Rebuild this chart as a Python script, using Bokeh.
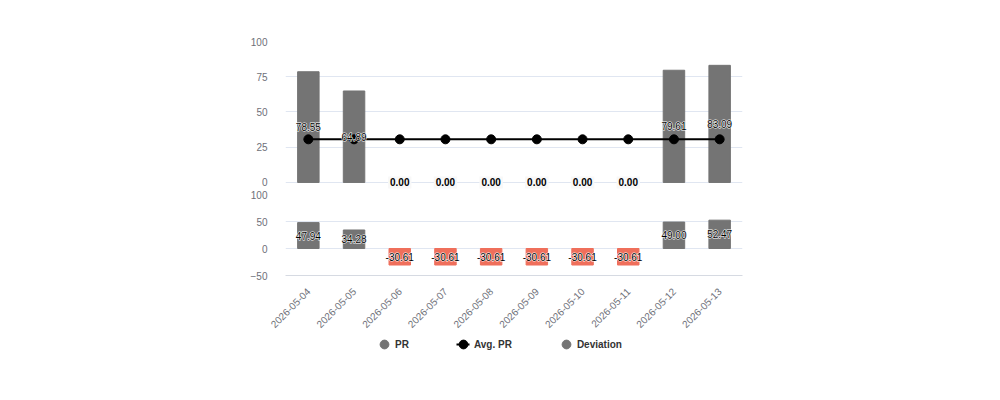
from math import pi

from bokeh.plotting import figure
from bokeh.models import (ColumnDataSource, Range1d, FixedTicker, Legend, LegendItem)
from bokeh.layouts import column
from bokeh.core.properties import value
from bokeh.embed import file_html
from bokeh.resources import INLINE

# data
dates = ['2026-05-04', '2026-05-05', '2026-05-06', '2026-05-07', '2026-05-08',
         '2026-05-09', '2026-05-10', '2026-05-11', '2026-05-12', '2026-05-13']
pr = [78.55, 64.89, 0.00, 0.00, 0.00, 0.00, 0.00, 0.00, 79.61, 83.09]
avg_pr = [30.61, 30.61, 30.61, 30.61, 30.61, 30.61, 30.61, 30.61, 30.61, 30.61]
deviation = [47.94, 34.28, -30.61, -30.61, -30.61, -30.61, -30.61, -30.61, 49.00, 52.47]

GRAY = '#747474'
SALMON = '#ef6f5b'
GRID = '#e0e6f1'
TICK = '#6e7079'
FONT = 'Liberation Sans'
W = 984

src = ColumnDataSource(dict(
    date=dates, pr=pr, avg=avg_pr, dev=deviation,
    dev_mid=[v / 2 for v in deviation],
    dev_txt=['%.2f' % v for v in deviation],
    dev_col=[GRAY if v >= 0 else SALMON for v in deviation],
))
pos = ColumnDataSource(dict(
    date=[d for d, v in zip(dates, pr) if v > 0],
    mid=[v / 2 for v in pr if v > 0],
    txt=['%.2f' % v for v in pr if v > 0],
))
zero = ColumnDataSource(dict(
    date=[d for d, v in zip(dates, pr) if v == 0],
    y=[v for v in pr if v == 0],
    txt=['%.2f' % v for v in pr if v == 0],
))


def style_y(p, ticks):
    p.yaxis.ticker = FixedTicker(ticks=ticks)
    p.yaxis.axis_line_color = None
    p.yaxis.major_tick_line_color = None
    p.yaxis.minor_tick_line_color = None
    p.yaxis.major_label_standoff = 12
    p.yaxis.major_label_text_color = TICK
    p.yaxis.major_label_text_font = FONT
    p.yaxis.major_label_text_font_size = '10px'
    p.ygrid.grid_line_color = GRID
    p.xgrid.grid_line_color = None
    p.outline_line_color = None


def halo_text(p, y, text, source):
    # white outlined copy underneath, black text on top
    kw = dict(x='date', y=y, text=text, source=source, text_align='center',
              text_baseline='middle', text_font=value(FONT), text_font_size='10px')
    p.text(text_color='white', text_outline_color='white', **kw)
    p.text(text_color='black', **kw)


# top panel: PR bars + average line
p1 = figure(x_range=dates, y_range=Range1d(-5.7, 100), width=W, height=190,
            output_backend="svg", toolbar_location=None, x_axis_location=None,
            min_border_left=285, min_border_right=W - 285 - 457, min_border_top=41,
            min_border_bottom=0)
style_y(p1, [0, 25, 50, 75, 100])
p1.vbar(x='date', top='pr', width=0.47, color=GRAY, source=src)
p1.line(x='date', y='avg', line_color='black', line_width=2, source=src)
p1.scatter(x='date', y='avg', size=9, color='black', source=src)
halo_text(p1, 'mid', 'txt', pos)
p1.text(x='date', y='y', text='txt', source=zero, text_align='center',
        text_baseline='middle', text_font=value(FONT), text_font_size='10px',
        text_font_style='bold', text_color='black',
        background_fill_color='#f8f8f8', padding=2)

# bottom panel: deviation bars
p2 = figure(x_range=p1.x_range, y_range=Range1d(-50, 100), width=W, height=147,
            output_backend="svg", toolbar_location=None,
            min_border_left=285, min_border_right=W - 285 - 457, min_border_top=4,
            min_border_bottom=62)
style_y(p2, [-50, 0, 50, 100])
p2.vbar(x='date', top='dev', width=0.47, color='dev_col', source=src)
halo_text(p2, 'dev_mid', 'dev_txt', src)
p2.xaxis.axis_line_color = '#d6dae2'
p2.xaxis.major_tick_line_color = None
p2.xaxis.minor_tick_line_color = None
p2.xaxis.major_label_orientation = pi / 4
p2.xaxis.major_label_standoff = 8
p2.xaxis.major_label_text_color = TICK
p2.xaxis.major_label_text_font = FONT
p2.xaxis.major_label_text_font_size = '10px'

# legend strip; the key glyphs have a single NaN point so only the legend shows them
p3 = figure(x_range=Range1d(0, 1), y_range=Range1d(0, 1), width=W, height=30,
            output_backend="svg", toolbar_location=None,
            x_axis_location=None, y_axis_location=None, min_border=0)
p3.grid.grid_line_color = None
p3.outline_line_color = None
key = ColumnDataSource(dict(x=[float('nan')], y=[float('nan')]))
pr_key = p3.scatter(x='x', y='y', size=10, color=GRAY, source=key)
# dash pattern keeps the legend line short, like the original key
ln_key = p3.line(x='x', y='y', line_color='black', line_width=2,
                 line_dash="0 4 13 20", source=key)
dt_key = p3.scatter(x='x', y='y', size=8, color='black', source=key)
dev_key = p3.scatter(x='x', y='y', size=10, color=GRAY, source=key)

legend = Legend(items=[
    LegendItem(label='PR', renderers=[pr_key]),
    LegendItem(label='Avg. PR', renderers=[ln_key, dt_key]),
    LegendItem(label='Deviation', renderers=[dev_key]),
], orientation='horizontal', location=(88, 12), spacing=43,
    glyph_width=22, glyph_height=22, label_standoff=0, label_width=0,
    padding=0, margin=0, border_line_color=None, background_fill_alpha=0,
    label_text_font=FONT, label_text_font_size='10px',
    label_text_font_style='bold', label_text_color='#333333')
p3.add_layout(legend, 'center')

layout = column(p1, p2, p3, spacing=0)
open("out.html", "w").write(file_html(layout, INLINE))
